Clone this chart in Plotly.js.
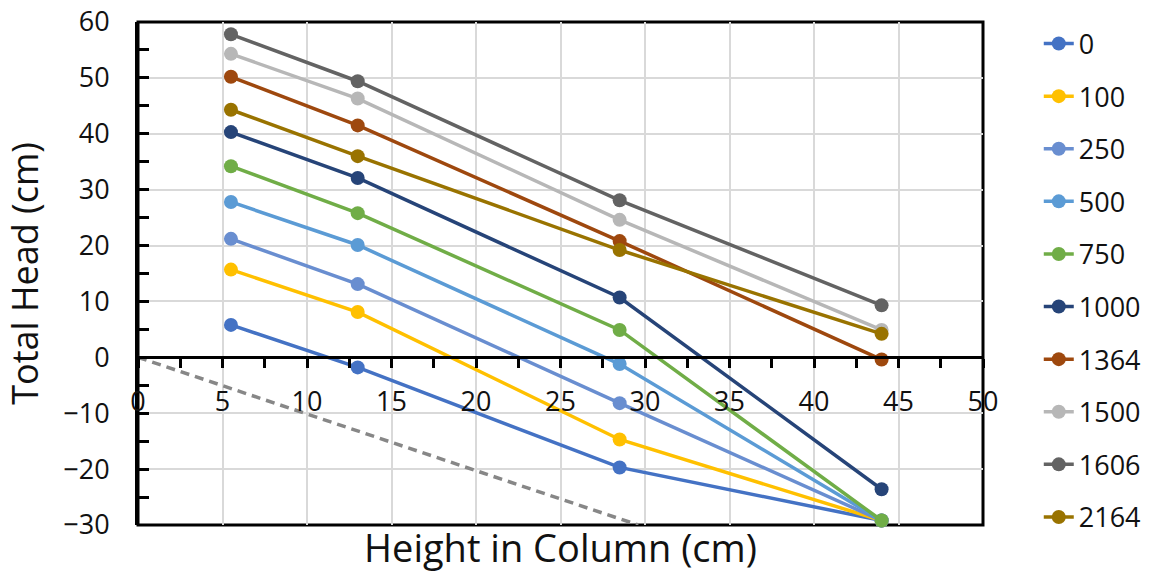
<!DOCTYPE html>
<html>
<head>
<meta charset="utf-8">
<script src="https://cdn.plot.ly/plotly-3.0.1.min.js"></script>
<style>
  html, body { margin: 0; padding: 0; background: #ffffff; }
  #chart { width: 1158px; height: 583px; }
</style>
</head>
<body>
<div id="chart"></div>
<script>
// Measurement heights along the column (cm)
const heights = [5.5, 13, 28.5, 44];

// Series names (legend labels)
const seriesNames = ['0', '100', '250', '500', '750', '1000', '1364', '1500', '1606', '2164'];

// Total head (cm) at each height, one array per series
const head0    = [5.8, -1.8, -19.7, -29.2];
const head100  = [15.7, 8.1, -14.7, -29.2];
const head250  = [21.2, 13.1, -8.2, -29.2];
const head500  = [27.8, 20.1, -1.2, -29.2];
const head750  = [34.2, 25.8, 4.9, -29.2];
const head1000 = [40.3, 32.1, 10.7, -23.6];
const head1364 = [50.2, 41.5, 20.8, -0.4];
const head1500 = [54.3, 46.3, 24.6, 4.9];
const head1606 = [57.8, 49.4, 28.1, 9.3];
const head2164 = [44.3, 36.0, 19.2, 4.2];

// Reference line (elevation datum)
const refX = [0, 29.6];
const refY = [0, -30];

const seriesValues = [head0, head100, head250, head500, head750, head1000,
                      head1364, head1500, head1606, head2164];
const seriesColors = ['#4472C4', '#FFC000', '#698ED0', '#5B9BD5', '#70AD47',
                      '#264478', '#9E480E', '#B7B7B7', '#636363', '#997300'];

const FONT = '"Open Sans", "Noto Sans", sans-serif';

const traces = seriesNames.map((name, i) => ({
  type: 'scatter',
  mode: 'lines+markers',
  name: name,
  legendgroup: 'g' + i,
  x: heights,
  y: seriesValues[i],
  xaxis: 'x',
  yaxis: 'y',
  cliponaxis: false,
  line: { color: seriesColors[i], width: 3.5 },
  marker: { color: seriesColors[i], size: 14 }
}));

traces.unshift({
  type: 'scatter',
  mode: 'lines',
  x: refX,
  y: refY,
  xaxis: 'x2',
  yaxis: 'y',
  showlegend: false,
  hoverinfo: 'skip',
  line: { color: '#878787', width: 3.5, dash: '9px,6px' }
});

const zeroPos = (0 - (-30)) / (60 - (-30));

const layout = {
  width: 1158,
  height: 583,
  margin: { l: 138, r: 172, t: 22, b: 58 },
  paper_bgcolor: '#ffffff',
  plot_bgcolor: '#ffffff',
  font: { family: FONT, color: '#111111' },
  showlegend: true,
  legend: {
    x: 1.066, xanchor: 'left',
    y: 1.005, yanchor: 'top',
    maxheight: 600,
    font: { family: FONT, size: 27, color: '#111111' },
    tracegroupgap: 14.5,
    bgcolor: 'rgba(0,0,0,0)'
  },
  xaxis: {
    range: [0, 50],
    dtick: 5,
    showgrid: true,
    gridcolor: '#d9d9d9',
    gridwidth: 1.5,
    zeroline: false,
    showline: false,
    ticks: '',
    showticklabels: false,
    title: {
      text: 'Height in Column (cm)',
      font: { family: FONT, size: 38, color: '#111111' },
      standoff: 10
    }
  },
  xaxis2: {
    overlaying: 'x',
    anchor: 'free',
    position: zeroPos,
    range: [0, 50],
    dtick: 5,
    showgrid: false,
    zeroline: false,
    showline: true,
    linecolor: '#000000',
    linewidth: 3,
    ticks: 'outside',
    ticklen: 9,
    tickwidth: 2.5,
    tickcolor: '#000000',
    minor: { dtick: 2.5, ticks: 'outside', ticklen: 9, tickwidth: 2.5, tickcolor: '#000000', showgrid: false },
    ticklabelstandoff: 10,
    tickfont: { family: FONT, size: 27, color: '#111111' }
  },
  xaxis3: {
    overlaying: 'x',
    anchor: 'free',
    position: zeroPos,
    side: 'top',
    range: [0, 50],
    dtick: 5,
    showgrid: false,
    zeroline: false,
    showline: false,
    ticks: 'outside',
    ticklen: 9,
    tickwidth: 2.5,
    tickcolor: '#000000',
    minor: { dtick: 2.5, ticks: 'outside', ticklen: 9, tickwidth: 2.5, tickcolor: '#000000', showgrid: false },
    showticklabels: false
  },
  yaxis: {
    range: [-30, 60],
    dtick: 10,
    showgrid: true,
    gridcolor: '#d9d9d9',
    gridwidth: 1.5,
    zeroline: false,
    showline: true,
    linecolor: '#000000',
    linewidth: 3,
    ticks: 'inside',
    ticklen: 11,
    tickwidth: 2.5,
    tickcolor: '#000000',
    minor: { dtick: 5, ticks: 'inside', ticklen: 11, tickwidth: 2.5, tickcolor: '#000000', showgrid: false },
    ticklabelstandoff: 20,
    tickfont: { family: FONT, size: 27, color: '#111111' },
    title: {
      text: 'Total Head (cm)',
      font: { family: FONT, size: 36, color: '#111111' },
      standoff: 14
    }
  },
  shapes: [{
    type: 'rect', xref: 'paper', yref: 'paper',
    x0: 0, x1: 1, y0: 0, y1: 1,
    line: { color: '#000000', width: 3 },
    layer: 'between'
  }]
};

Plotly.newPlot('chart', traces, layout, { displayModeBar: false, responsive: false });
</script>
</body>
</html>
